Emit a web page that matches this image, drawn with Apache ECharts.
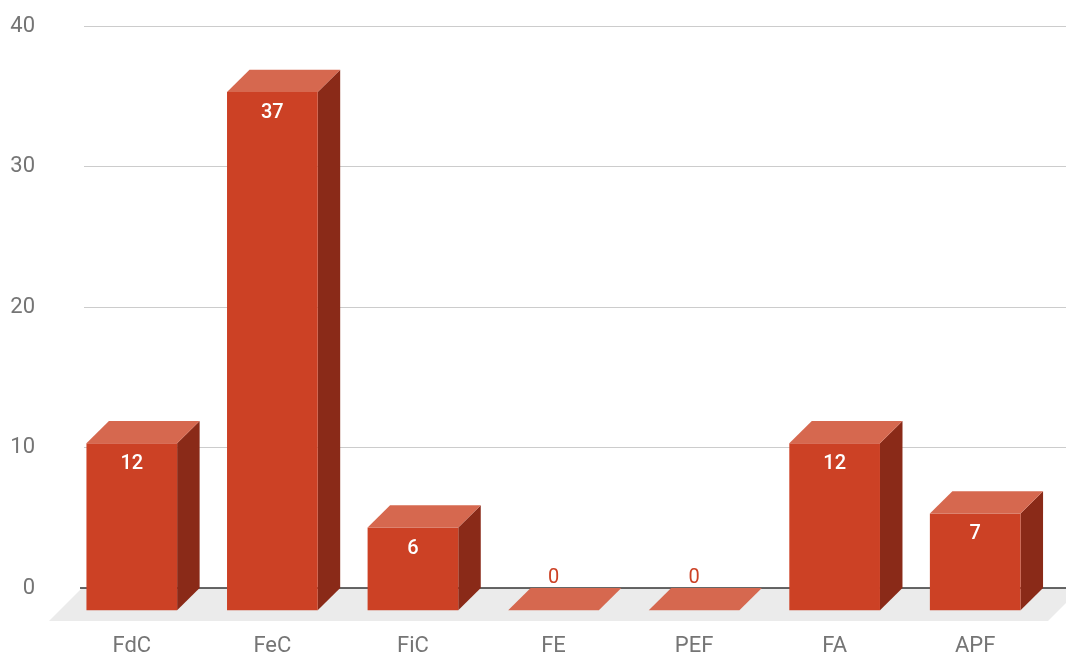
<!DOCTYPE html>
<html><head><meta charset="utf-8">
<script src="https://cdn.jsdelivr.net/npm/echarts@6/dist/echarts.min.js"></script>
<style>html,body{margin:0;padding:0;background:#fff}#c{width:1066px;height:653px}</style>
</head><body><div id="c"></div>
<script>
// ---- data ----
const categories = ['FdC', 'FeC', 'FiC', 'FE', 'PEF', 'FA', 'APF'];
const values = [12, 37, 6, 0, 0, 12, 7];
const yMin = 0;
const yMax = 40;
const yInterval = 10;

// ---- style ----
const FRONT = '#cc4125', TOP = '#d6684f', SIDE = '#8a2a18';
const DX = -22.5, DY = 22.3;      // 3D depth offset (back -> front)
const BAR_RATIO = 0.645;
const FONT = 'Roboto, "Noto Sans", sans-serif';

const chart = echarts.init(document.getElementById('c'), null, {renderer: 'canvas'});

function renderFloor(params, api) {
  const cs = params.coordSys;
  const y0 = api.coord([0, 0])[1];
  const l = cs.x - 2, r = cs.x + cs.width + 13, d = 33;
  return {
    type: 'group',
    children: [
      {type: 'polygon', shape: {points: [[l, y0], [r, y0], [r - d, y0 + d], [l - d, y0 + d]]},
       style: {fill: '#ebebeb'}, silent: true},
      {type: 'line', shape: {x1: cs.x - 4, y1: y0, x2: cs.x + cs.width + 10, y2: y0},
       style: {stroke: '#333333', lineWidth: 1.5}, silent: true}
    ]
  };
}

function renderBar(params, api) {
  const idx = api.value(0);
  const v = api.value(1);
  const base = api.coord([idx, 0]);
  const top = api.coord([idx, v]);
  const bw = api.size([1, 0])[0] * BAR_RATIO;
  const xl = base[0] - bw / 2, xr = base[0] + bw / 2;
  const yb = base[1], yt = top[1] + 1.5;
  const fcx = base[0] + DX;
  const children = [];
  if (v > 0) {
    children.push({type: 'polygon', shape: {points: [[xr, yt], [xr, yb], [xr + DX, yb + DY], [xr + DX, yt + DY]]}, style: {fill: SIDE}});
    children.push({type: 'rect', shape: {x: xl + DX, y: yt + DY, width: bw, height: yb - yt}, style: {fill: FRONT}});
    children.push({type: 'polygon', shape: {points: [[xl, yt], [xr, yt], [xr + DX, yt + DY], [xl + DX, yt + DY]]}, style: {fill: TOP}});
    children.push({type: 'text', style: {x: fcx, y: yt + DY + 21, text: String(v), fill: '#ffffff',
      font: '500 20px ' + FONT, align: 'center', verticalAlign: 'middle'}});
  } else {
    children.push({type: 'polygon', shape: {points: [[xl, yb], [xr, yb], [xr + DX, yb + DY], [xl + DX, yb + DY]]}, style: {fill: TOP}});
    children.push({type: 'text', style: {x: fcx, y: yb - 10.5, text: String(v), fill: '#cc4125',
      font: '20px ' + FONT, align: 'center', verticalAlign: 'middle'}});
  }
  return {type: 'group', children: children};
}

const barData = values.map((v, i) => [i, v]);

chart.setOption({
  animation: false,
  backgroundColor: '#ffffff',
  grid: {left: 84, right: -2, top: 26, bottom: 65, containLabel: false, outerBoundsMode: 'none'},
  xAxis: {
    type: 'category', data: categories, boundaryGap: true,
    axisLine: {show: false}, axisTick: {show: false},
    axisLabel: {color: '#757575', fontSize: 22, fontFamily: FONT, margin: 47, padding: [0, 45, 0, 0], interval: 0}
  },
  yAxis: {
    type: 'value', min: yMin, max: yMax, interval: yInterval,
    axisLine: {show: false}, axisTick: {show: false},
    axisLabel: {color: '#757575', fontSize: 22, fontFamily: FONT, margin: 49},
    splitLine: {lineStyle: {color: '#cccccc', width: 1.2}}
  },
  series: [
    {type: 'custom', renderItem: renderFloor, data: [[0, 0]], z: 1, silent: true, clip: false},
    {type: 'custom', renderItem: renderBar, data: barData, z: 3, clip: false,
     encode: {x: 0, y: 1}}
  ]
});
</script>
</body></html>
